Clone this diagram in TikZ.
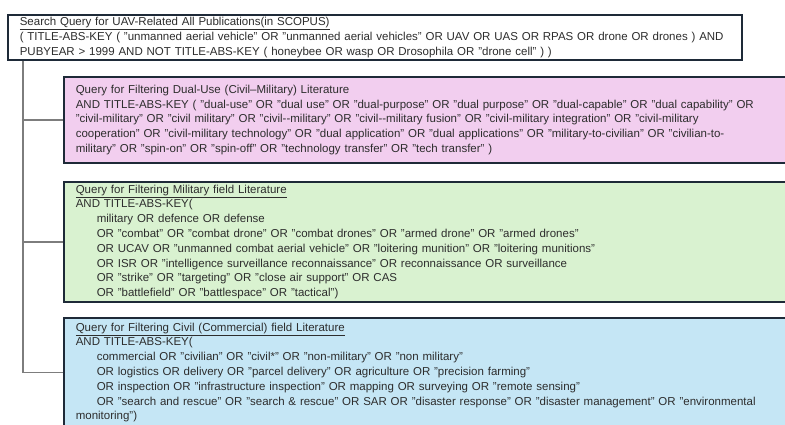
\documentclass[tikz,border=0pt]{standalone}
\usepackage{fontspec}
\setmainfont{Liberation Sans}
\usepackage{xcolor}
\usetikzlibrary{positioning}
\definecolor{frame}{RGB}{30, 42, 56}
\definecolor{trunkgray}{RGB}{125, 125, 125}
\definecolor{dualpink}{RGB}{242, 206, 239}
\definecolor{milgreen}{RGB}{217, 242, 208}
\definecolor{civblue}{RGB}{197, 230, 245}
\definecolor{querytext}{RGB}{45, 45, 45}
\newcommand{\ind}{\hspace*{21pt}}

\begin{document}
\begin{tikzpicture}[
    x=1pt, y=-1pt,
    query/.style={rectangle, draw=frame, line width=1.6pt, anchor=west, align=left, inner xsep=12pt, inner ysep=0pt, text=querytext, font=\fontsize{11.5}{14.8}\selectfont},
    branch/.style={draw=trunkgray, line width=1.6pt}
  ]
  \useasboundingbox (0,0) rectangle (785,424);
  \clip (0,0) rectangle (785,424);

  % Main search query
  \node[query, fill=white, text width=710pt, minimum height=45pt] (search) at (7, 37.5) {%
    \underline{Search Query for UAV-Related All Publications(in SCOPUS)}\\
    ( TITLE-ABS-KEY ( "unmanned aerial vehicle" OR "unmanned aerial vehicles" OR UAV OR UAS OR RPAS OR drone OR drones ) AND\\
    PUBYEAR > 1999 AND NOT TITLE-ABS-KEY ( honeybee OR wasp OR Drosophila OR "drone cell" ) )};

  % Filter queries
  \node[query, fill=dualpink, text width=740pt, minimum height=86pt] (dualuse) at (63, 120) {%
    Query for Filtering Dual-Use (Civil--Military) Literature\\
    AND TITLE-ABS-KEY ( "dual-use" OR "dual use" OR "dual-purpose" OR "dual purpose" OR "dual-capable" OR "dual capability" OR\\
    "civil-military" OR "civil military" OR "civil-{}-military" OR "civil-{}-military fusion" OR "civil-military integration" OR "civil-military\\
    cooperation" OR "civil-military technology" OR "dual application" OR "dual applications" OR "military-to-civilian" OR "civilian-to-\\
    military" OR "spin-on" OR "spin-off" OR "technology transfer" OR "tech transfer" )};

  \node[query, fill=milgreen, text width=740pt, minimum height=120pt] (military) at (63, 242) {%
    \underline{Query for Filtering Military field Literature}\\
    AND TITLE-ABS-KEY(\\
    \ind military OR defence OR defense\\
    \ind OR "combat" OR "combat drone" OR "combat drones" OR "armed drone" OR "armed drones"\\
    \ind OR UCAV OR "unmanned combat aerial vehicle" OR "loitering munition" OR "loitering munitions"\\
    \ind OR ISR OR "intelligence surveillance reconnaissance" OR reconnaissance OR surveillance\\
    \ind OR "strike" OR "targeting" OR "close air support" OR CAS\\
    \ind OR "battlefield" OR "battlespace" OR "tactical")};

  \node[query, fill=civblue, text width=740pt, minimum height=109pt] (civil) at (63, 372.5) {%
    \underline{Query for Filtering Civil (Commercial) field Literature}\\
    AND TITLE-ABS-KEY(\\
    \ind commercial OR "civilian" OR "civil*" OR "non-military" OR "non military"\\
    \ind OR logistics OR delivery OR "parcel delivery" OR agriculture OR "precision farming"\\
    \ind OR inspection OR "infrastructure inspection" OR mapping OR surveying OR "remote sensing"\\
    \ind OR "search and rescue" OR "search \& rescue" OR SAR OR "disaster response" OR "disaster management" OR "environmental\\
    monitoring")};

  % Tree connectors
  \coordinate (trunk) at ([xshift=16pt]search.south west);
  \foreach \q in {dualuse, military, civil} {
    \draw[branch] (trunk) |- (\q.west);
  }

\end{tikzpicture}
\end{document}
